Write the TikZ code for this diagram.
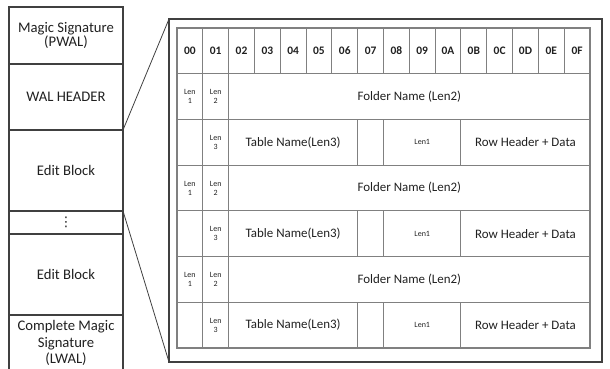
\documentclass[tikz,border=0pt]{standalone}
\usepackage{fontspec}
\setmainfont{Carlito}
\newfontfamily\symfont{DejaVu Sans}
\definecolor{txt}{HTML}{202020}
\definecolor{frameline}{HTML}{404040}
\definecolor{gridline}{HTML}{808080}
\newcommand{\tcell}[6]{%
  \node[cellbox,#5,minimum width={#4*19.359pt}] (#1) at ({177+#2*25.8125},{28+#3*45.714}) {#6};}
\begin{document}
\begin{tikzpicture}[x=0.75pt,y=-0.75pt,
  colbox/.style={draw=frameline,line width=0.8pt,anchor=north west,inner sep=0pt,outer sep=0pt,
    minimum width=85.5pt,align=center,text=txt,font=\fontsize{11}{11}\selectfont},
  cellbox/.style={draw=gridline,line width=0.8pt,anchor=north west,inner sep=0pt,outer sep=0pt,
    minimum height=34.285pt,align=center,text=txt,font=\fontsize{9.7}{11}\selectfont},
  hdr/.style={font=\fontsize{8.6}{10}\selectfont\bfseries},
  small/.style={font=\fontsize{6}{6.8}\selectfont},
  link/.style={draw=frameline,line width=0.6pt}]
\useasboundingbox (0,0) rectangle (610,368);
% left column
\node[colbox,minimum height=42.75pt] (magic) at (9,7) {Magic Signature\\(PWAL)};
\node[colbox,minimum height=49.5pt] (wal) at (9,64) {WAL HEADER};
\node[colbox,minimum height=60.75pt] (edit1) at (9,130) {Edit Block};
\node[colbox,minimum height=17.25pt,font=\symfont\fontsize{10}{10}\selectfont] (dots) at (9,211) {⋮};
\node[colbox,minimum height=60.75pt] (edit2) at (9,234) {Edit Block};
\node[colbox,minimum height=42pt,font=\fontsize{11}{12.6}\selectfont] (complete) at (9,315) {Complete Magic\\Signature\\(LWAL)};
\draw[draw=frameline,line width=0.8pt] (complete.south west) -- ++(0,10) (complete.south east) -- ++(0,10);
% outer frame
\node[draw=frameline,line width=0.8pt,anchor=north west,inner sep=0pt,outer sep=0pt,
  minimum width=324.75pt,minimum height=257.25pt] (frame) at (169,19) {};
% header row
\foreach \lab [count=\i from 0] in {00,01,02,03,04,05,06,07,08,09,0A,0B,0C,0D,0E,0F}{
  \tcell{h\i}{\i}{0}{1}{hdr}{\lab}
}
% data rows
\foreach \r/\s in {1/a,3/b,5/c}{
  \tcell{len1\s}{0}{\r}{1}{small}{Len\\1}
  \tcell{len2\s}{1}{\r}{1}{small}{Len\\2}
  \tcell{folder\s}{2}{\r}{14}{}{Folder Name (Len2)}
}
\foreach \r/\s in {2/a,4/b,6/c}{
  \tcell{blank\s}{0}{\r}{1}{}{}
  \tcell{len3\s}{1}{\r}{1}{small}{Len\\3}
  \tcell{table\s}{2}{\r}{5}{}{Table Name(Len3)}
  \tcell{gap\s}{7}{\r}{1}{}{}
  \tcell{lenone\s}{8}{\r}{3}{small}{Len1}
  \tcell{row\s}{11}{\r}{5}{}{Row Header + Data}
}
% connectors
\draw[link] (wal.south east) -- (frame.north west);
\draw[link] (edit1.south east) -- (frame.south west);
\end{tikzpicture}
\end{document}
